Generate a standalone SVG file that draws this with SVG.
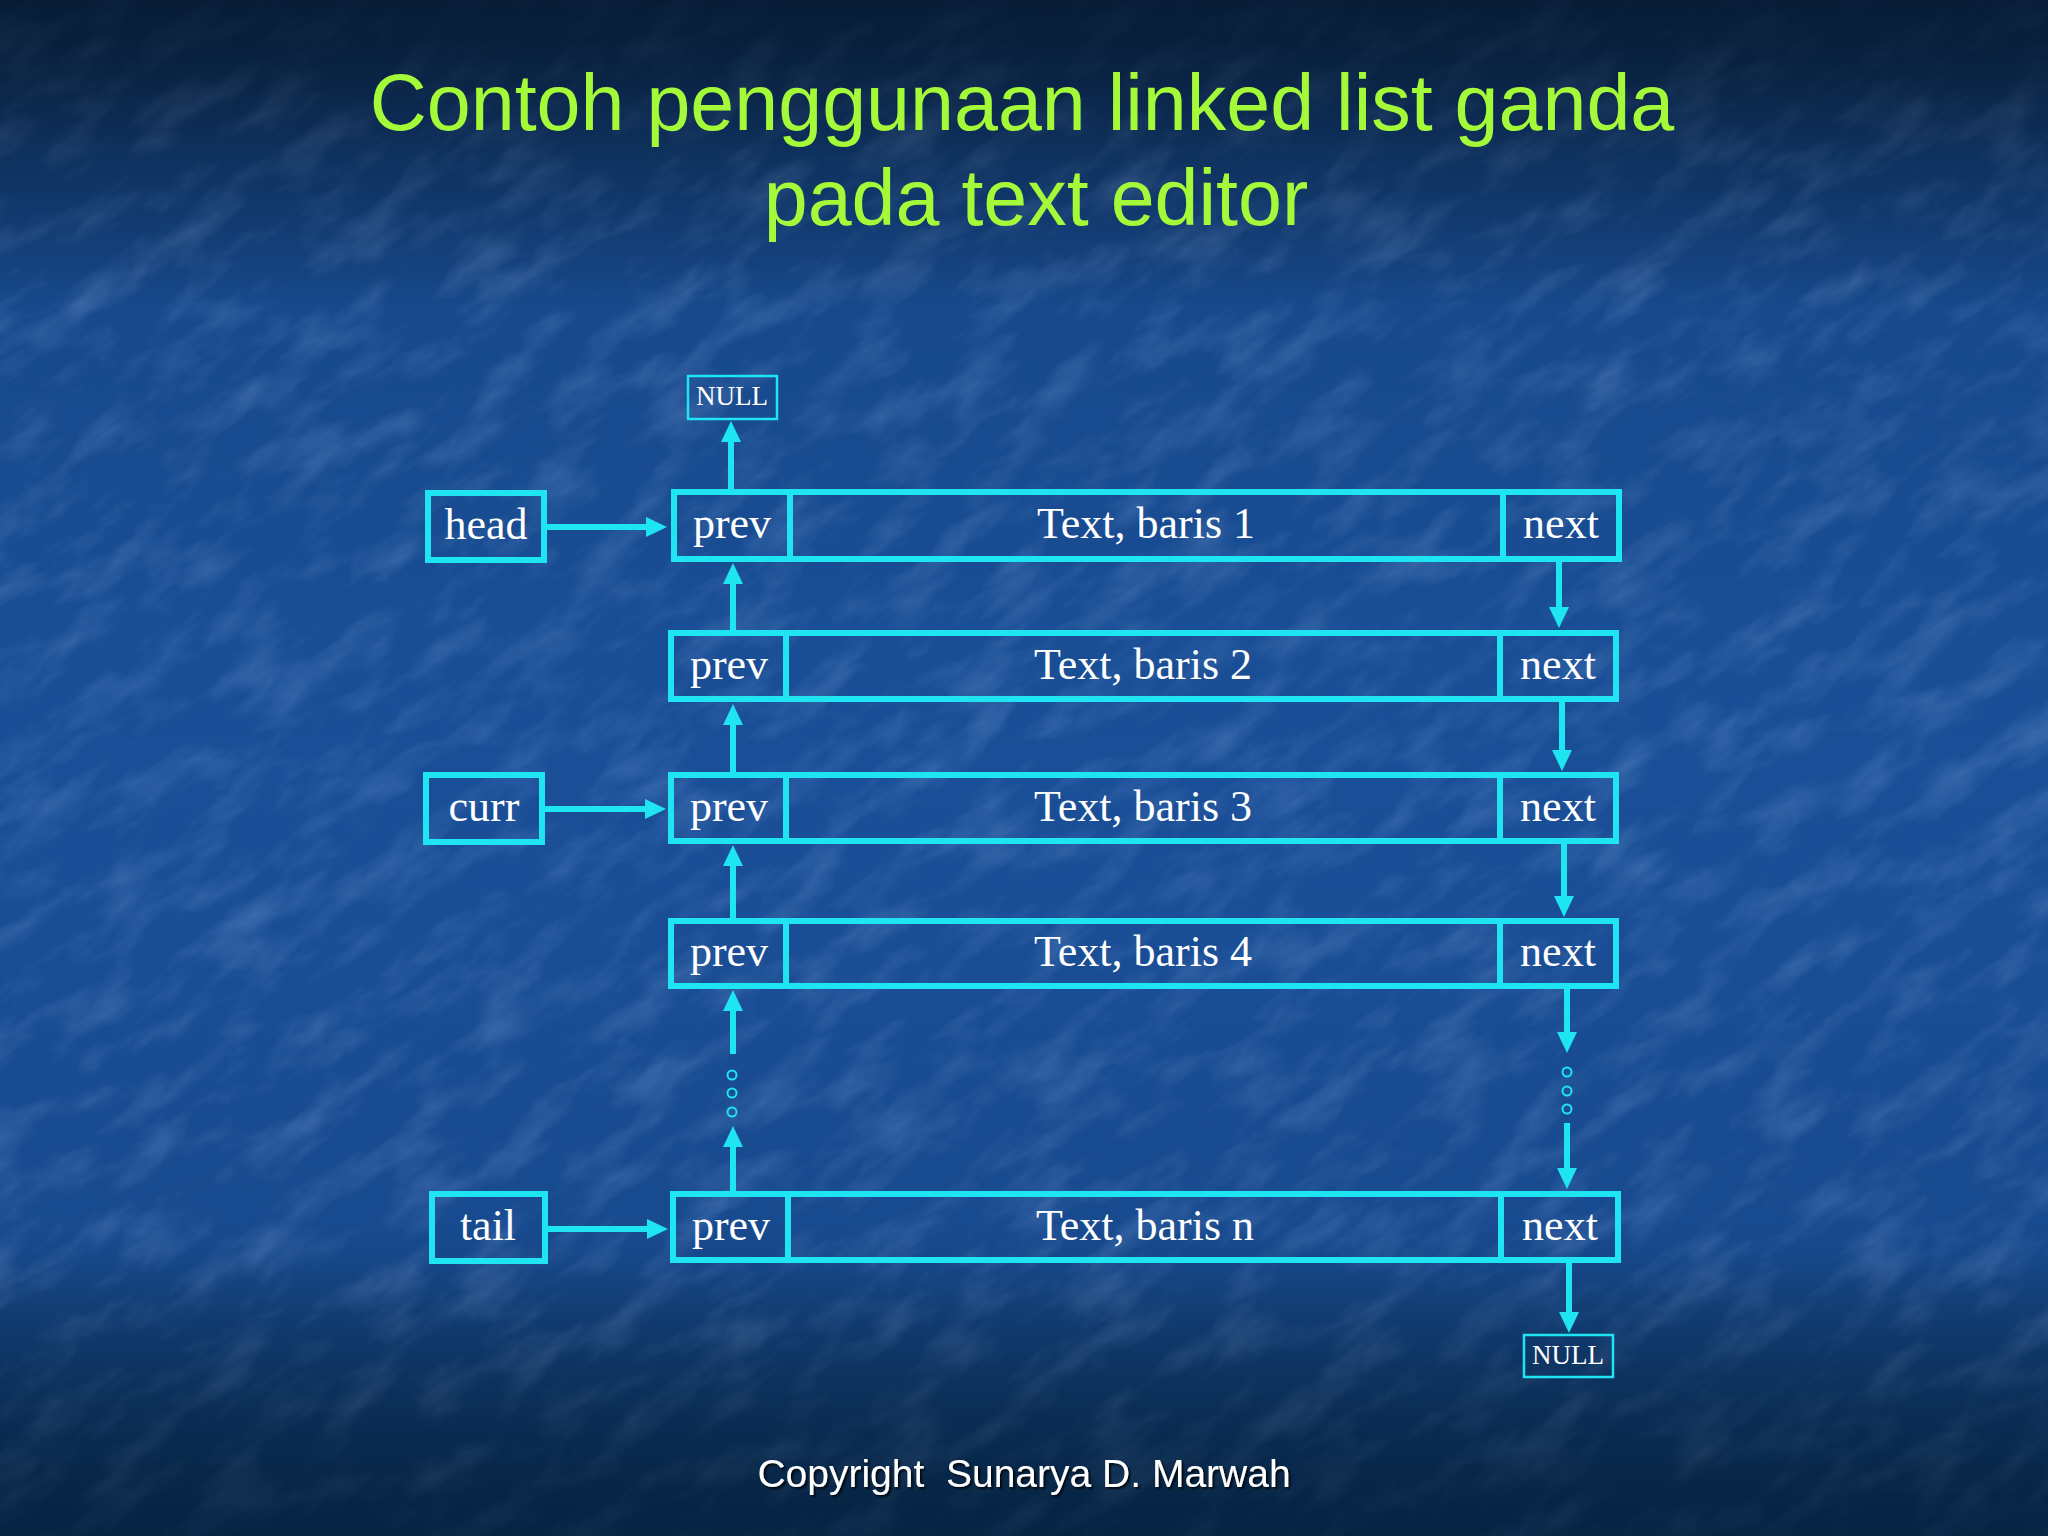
<svg xmlns="http://www.w3.org/2000/svg" width="2048" height="1536" viewBox="0 0 2048 1536">
<defs>
  <linearGradient id="bg" x1="0" y1="0" x2="0" y2="1">
    <stop offset="0" stop-color="#0b2444"/>
    <stop offset="0.07" stop-color="#103463"/>
    <stop offset="0.2" stop-color="#17498c"/>
    <stop offset="0.5" stop-color="#1a4f98"/>
    <stop offset="0.8" stop-color="#184a8f"/>
    <stop offset="0.9" stop-color="#103b6e"/>
    <stop offset="1" stop-color="#092c4f"/>
  </linearGradient>
  <linearGradient id="vig" x1="0" y1="0" x2="0" y2="1">
    <stop offset="0" stop-color="#061a33" stop-opacity="0.85"/>
    <stop offset="0.1" stop-color="#061a33" stop-opacity="0.25"/>
    <stop offset="0.2" stop-color="#061a33" stop-opacity="0"/>
    <stop offset="0.82" stop-color="#061a33" stop-opacity="0"/>
    <stop offset="1" stop-color="#04203d" stop-opacity="0.7"/>
  </linearGradient>
  <filter id="tex" x="0" y="0" width="100%" height="100%">
    <feTurbulence type="fractalNoise" baseFrequency="0.012 0.03" numOctaves="4" seed="7"/>
    <feColorMatrix type="matrix" values="0 0 0 0 0.42  0 0 0 0 0.6  0 0 0 0 0.95  1.3 0 0 0 -0.58"/>
  </filter>
  <filter id="shadow" x="-5%" y="-20%" width="110%" height="150%">
    <feDropShadow dx="2" dy="2" stdDeviation="1" flood-color="#000000" flood-opacity="0.8"/>
  </filter>
  <marker id="ah" markerUnits="userSpaceOnUse" markerWidth="22" markerHeight="22" refX="2" refY="11" orient="auto">
    <path d="M0,1 L21,11 L0,21 z" fill="#1fe4f2"/>
  </marker>
  <style>
    .box { fill: none; stroke: #1fe4f2; stroke-width: 6; }
    .div { stroke: #1fe4f2; stroke-width: 6; }
    .nullbox { fill: none; stroke: #1fe4f2; stroke-width: 2.5; }
    .lbl { font-family: "Liberation Serif", "Times New Roman", serif; font-size: 44px; fill: #ffffff; text-anchor: middle; }
    .nul { font-family: "Liberation Serif", "Times New Roman", serif; font-size: 27px; fill: #ffffff; text-anchor: middle; }
    .conn { stroke: #1fe4f2; stroke-width: 6; fill: none; marker-end: url(#ah); }
    .dot { fill: none; stroke: #1fe4f2; stroke-width: 2; }
    .title { font-family: "Liberation Sans", Arial, sans-serif; font-size: 79px; fill: #a4fa38; text-anchor: middle; }
    .copy { font-family: "Liberation Sans", Arial, sans-serif; font-size: 39px; fill: #ffffff; text-anchor: middle; white-space: pre; }
  </style>
</defs>

<rect x="0" y="0" width="2048" height="1536" fill="url(#bg)"/>
<g transform="rotate(-35 1024 768)" opacity="0.35">
  <rect x="-600" y="-600" width="3248" height="2736" filter="url(#tex)"/>
</g>
<rect x="0" y="0" width="2048" height="1536" fill="url(#vig)"/>

<g id="title">
  <text class="title" x="1022" y="130">Contoh penggunaan linked list ganda</text>
  <text class="title" x="1036" y="225">pada text editor</text>
</g>

<g id="null-top">
  <rect class="nullbox" x="688" y="376" width="89" height="43"/>
  <text class="nul" x="732" y="405">NULL</text>
</g>

<g id="head">
  <rect class="box" x="428" y="493" width="116" height="67"/>
  <text class="lbl" x="486" y="539">head</text>
</g>
<g id="curr">
  <rect class="box" x="426" y="775" width="116" height="67"/>
  <text class="lbl" x="484" y="821">curr</text>
</g>
<g id="tail">
  <rect class="box" x="432" y="1194" width="113" height="67"/>
  <text class="lbl" x="488" y="1240">tail</text>
</g>

<g id="row1">
  <rect class="box" x="674" y="492" width="945" height="67"/>
  <line class="div" x1="790" y1="492" x2="790" y2="559"/>
  <line class="div" x1="1503" y1="492" x2="1503" y2="559"/>
  <text class="lbl" x="732" y="538">prev</text>
  <text class="lbl" x="1146" y="538">Text, baris 1</text>
  <text class="lbl" x="1561" y="538">next</text>
</g>
<g id="row2">
  <rect class="box" x="671" y="633" width="945" height="66"/>
  <line class="div" x1="786" y1="633" x2="786" y2="699"/>
  <line class="div" x1="1500" y1="633" x2="1500" y2="699"/>
  <text class="lbl" x="729" y="679">prev</text>
  <text class="lbl" x="1143" y="679">Text, baris 2</text>
  <text class="lbl" x="1558" y="679">next</text>
</g>
<g id="row3">
  <rect class="box" x="671" y="775" width="945" height="66"/>
  <line class="div" x1="786" y1="775" x2="786" y2="841"/>
  <line class="div" x1="1500" y1="775" x2="1500" y2="841"/>
  <text class="lbl" x="729" y="821">prev</text>
  <text class="lbl" x="1143" y="821">Text, baris 3</text>
  <text class="lbl" x="1558" y="821">next</text>
</g>
<g id="row4">
  <rect class="box" x="671" y="921" width="945" height="65"/>
  <line class="div" x1="786" y1="921" x2="786" y2="986"/>
  <line class="div" x1="1500" y1="921" x2="1500" y2="986"/>
  <text class="lbl" x="729" y="966">prev</text>
  <text class="lbl" x="1143" y="966">Text, baris 4</text>
  <text class="lbl" x="1558" y="966">next</text>
</g>
<g id="rown">
  <rect class="box" x="673" y="1194" width="945" height="66"/>
  <line class="div" x1="788" y1="1194" x2="788" y2="1260"/>
  <line class="div" x1="1501" y1="1194" x2="1501" y2="1260"/>
  <text class="lbl" x="731" y="1240">prev</text>
  <text class="lbl" x="1145" y="1240">Text, baris n</text>
  <text class="lbl" x="1560" y="1240">next</text>
</g>

<g id="null-bottom">
  <rect class="nullbox" x="1524" y="1335" width="89" height="42"/>
  <text class="nul" x="1568" y="1364">NULL</text>
</g>

<g id="connectors">
  <line class="conn" x1="547" y1="527" x2="648" y2="527"/>
  <line class="conn" x1="545" y1="809" x2="647" y2="809"/>
  <line class="conn" x1="548" y1="1229" x2="649" y2="1229"/>

  <line class="conn" x1="731" y1="489" x2="731" y2="440"/>
  <line class="conn" x1="733" y1="630" x2="733" y2="582"/>
  <line class="conn" x1="733" y1="772" x2="733" y2="723"/>
  <line class="conn" x1="733" y1="918" x2="733" y2="864"/>
  <line class="conn" x1="733" y1="1054" x2="733" y2="1009"/>
  <circle class="dot" cx="732" cy="1075" r="4.5"/>
  <circle class="dot" cx="732" cy="1093" r="4.5"/>
  <circle class="dot" cx="732" cy="1112" r="4.5"/>
  <line class="conn" x1="733" y1="1191" x2="733" y2="1145"/>

  <line class="conn" x1="1559" y1="562" x2="1559" y2="609"/>
  <line class="conn" x1="1562" y1="702" x2="1562" y2="752"/>
  <line class="conn" x1="1564" y1="844" x2="1564" y2="898"/>
  <line class="conn" x1="1567" y1="989" x2="1567" y2="1034"/>
  <circle class="dot" cx="1567" cy="1072" r="4.5"/>
  <circle class="dot" cx="1567" cy="1091" r="4.5"/>
  <circle class="dot" cx="1567" cy="1109" r="4.5"/>
  <line class="conn" x1="1567" y1="1123" x2="1567" y2="1170"/>
  <line class="conn" x1="1569" y1="1263" x2="1569" y2="1314"/>
</g>

<g id="footer">
  <text class="copy" x="1024" y="1487" filter="url(#shadow)" xml:space="preserve">Copyright  Sunarya D. Marwah</text>
</g>
</svg>
